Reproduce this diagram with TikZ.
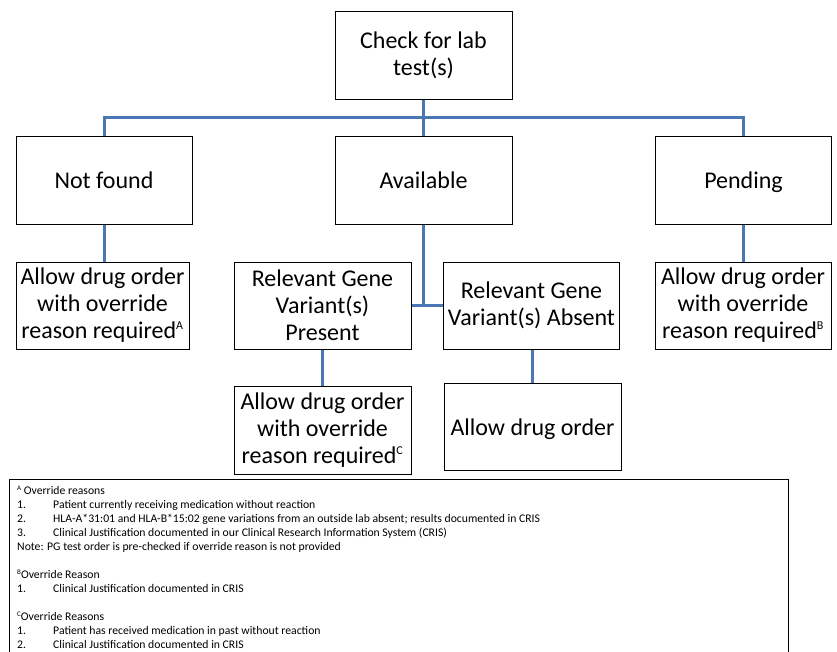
\documentclass[tikz,border=0pt]{standalone}
\usepackage{fontspec}
\setmainfont{Carlito}
\definecolor{connblue}{RGB}{74,119,180}
\tikzset{
  box/.style={draw=black, line width=1pt, minimum width=176pt, minimum height=88pt,
    inner sep=0pt, align=center, font=\fontsize{24}{27}\selectfont},
  conn/.style={draw=connblue, line width=3pt},
  note/.style={anchor=base west, inner sep=0pt, font=\fontsize{11.7}{13}\selectfont},
  num/.style={note},
}
\newcommand{\supl}[1]{\textsuperscript{\fontsize{12}{12}\selectfont #1}}
\newcommand{\fsup}[1]{\raisebox{3.5pt}{\fontsize{7}{7}\selectfont #1}}
\newcommand{\nodepth}[1]{\raisebox{0pt}[\height][0pt]{#1}}
\begin{document}
\begin{tikzpicture}[x=1pt,y=-1pt]
\useasboundingbox (0,0) rectangle (837,651);
% boxes
\node[box, minimum width=177pt] (check) at (423.5,55) {Check for lab\\test(s)};
\node[box] (notfound) at (104,180) {Not found};
\node[box, minimum width=177pt] (avail) at (423.5,180) {Available};
\node[box] (pending) at (743.5,180) {\nodepth{Pending}};
\node[box, minimum width=173pt, minimum height=87pt] (allowA) at (102.5,305.5) {Allow drug order\\with override\\reason required\supl{A}};
\node[box, minimum width=177pt, minimum height=87pt] (present) at (322.5,305.5) {Relevant Gene\\Variant(s)\\Present};
\node[box, minimum height=87pt] (absent) at (531.5,305.5) {Relevant Gene\\Variant(s) Absent};
\node[box, minimum height=87pt] (allowB) at (743,305.5) {Allow drug order\\with override\\reason required\supl{B}};
\node[box, minimum width=177pt] (allowC) at (322.5,430) {Allow drug order\\with override\\reason required\supl{C}};
\node[box, minimum width=177pt, minimum height=87pt] (allowD) at (532.5,427) {\nodepth{Allow drug order}};
% connectors
\coordinate (bus) at (423.5,117);
\draw[conn] (check.south) -- (avail.north);
\draw[conn] (notfound.north) |- (bus) -| (pending.north);
\draw[conn] (notfound.south) -- (notfound.south |- allowA.north);
\draw[conn] (pending.south) -- (pending.south |- allowB.north);
\draw[conn] (avail.south) -- (avail.south |- present.east);
\draw[conn] (present.east) -- (absent.west);
\draw[conn] (present.south) -- (allowC.north);
\draw[conn] (absent.south -| allowD.north) -- (allowD.north);
% footnote box
\draw[black, line width=1pt] (9,655) -- (9,479) -- (788,479) -- (788,655);
\node[note] (hA) at (17,494) {\fsup{A} Override reasons};
\node[num] (a1n) at (17,508) {1.};
\node[note] (a1) at (53,508) {Patient currently receiving medication without reaction};
\node[num] (a2n) at (17,522) {2.};
\node[note] (a2) at (53,522) {HLA-A*31:01 and HLA-B*15:02 gene variations from an outside lab absent; results documented in CRIS};
\node[num] (a3n) at (17,536) {3.};
\node[note] (a3) at (53,536) {Clinical Justification documented in our Clinical Research Information System (CRIS)};
\node[note] (an) at (17,550) {Note: PG test order is pre-checked if override reason is not provided};
\node[note] (hB) at (17,578) {\fsup{B}Override Reason};
\node[num] (b1n) at (17,592) {1.};
\node[note] (b1) at (53,592) {Clinical Justification documented in CRIS};
\node[note] (hC) at (17,620) {\fsup{C}Override Reasons};
\node[num] (c1n) at (17,634) {1.};
\node[note] (c1) at (53,634) {Patient has received medication in past without reaction};
\node[num] (c2n) at (17,648) {2.};
\node[note] (c2) at (53,648) {Clinical Justification documented in CRIS};
\end{tikzpicture}
\end{document}
